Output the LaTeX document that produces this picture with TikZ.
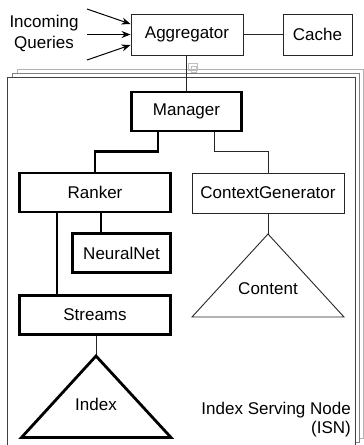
\documentclass[tikz,border=0pt]{standalone}
\usepackage{fontspec}
\setmainfont{Liberation Sans}
\usetikzlibrary{arrows.meta}
\begin{document}
\begin{tikzpicture}[x=1pt,y=-1pt,
  txt/.style={font=\fontsize{17}{21}\selectfont, inner sep=0pt},
  thinbox/.style={txt, draw=black!85, line width=0.9pt, minimum height=41pt},
  thickbox/.style={txt, draw=black, line width=2.8pt, minimum height=39pt},
  thinline/.style={draw=black!85, line width=0.9pt},
  thickline/.style={draw=black, line width=2.8pt},
  frameA/.style={draw=black!30, line width=0.8pt, fill=white},
  frameB/.style={draw=black!50, line width=0.8pt, fill=white},
  frameC/.style={draw=black!75, line width=0.9pt, fill=white},
  inarrow/.style={draw=black, line width=1pt, -{Stealth[length=9pt,width=7pt]}}]
\useasboundingbox (0,0) rectangle (364,445);
% stacked ISN frames
\draw[frameA] (17,69) rectangle (363,438);
\draw[frameB] (12,73) rectangle (359,442);
\draw[frameC] (7,77) rectangle (355,450);
\draw[black!25, line width=0.6pt] (188,63) rectangle (197,70);
\draw[black!25, line width=0.6pt] (191,66) rectangle (196,72);
% top nodes
\node[thinbox, minimum width=112pt] (agg) at (187,34.5) {Aggregator};
\node[thinbox, minimum width=69pt] (cache) at (317.5,34.5) {Cache};
\node[txt, align=center] (inq) at (44,33) {Incoming\\Queries};
\coordinate (q1) at (87,9);
\coordinate (q2) at (87,34.5);
\coordinate (q3) at (87,60);
\draw[inarrow] (q1) -- ([yshift=10.5pt]agg.west);
\draw[inarrow] (q2) -- (agg.west);
\draw[inarrow] (q3) -- ([yshift=-10.5pt]agg.west);
\draw[thinline] (agg.east) -- (cache.west);
% ISN nodes
\node[thickbox, minimum width=110pt] (mgr) at (186.5,111.5) {Manager};
\node[thickbox, minimum width=151pt] (ranker) at (95,192.5) {Ranker};
\node[thinbox, minimum width=152pt, minimum height=40pt] (ctx) at (268,193) {ContextGenerator};
\node[thickbox, minimum width=98pt] (nn) at (121.5,253) {NeuralNet};
\node[thickbox, minimum width=151pt] (streams) at (95,315) {Streams};
\draw[thinline] (agg.south -| mgr.north) -- (mgr.north);
\draw[thickline] ([xshift=-28.5pt]mgr.south) -- ++(0,19) -| (ranker.north);
\draw[thinline] ([xshift=27.5pt]mgr.south) -- ++(0,19) -| (ctx.north);
\coordinate (rnx) at (101,0);
\coordinate (rsx) at (57,0);
\draw[thickline] (ranker.south -| rnx) -- (nn.north -| rnx);
\draw[thickline] (ranker.south -| rsx) -- (streams.north -| rsx);
% Index triangle
\coordinate (itop) at (96,356);
\coordinate (ileft) at (21.5,437.5);
\coordinate (iright) at (171,437.5);
\draw[thinline] (streams.south -| itop) -- (itop);
\draw[thickline, line join=miter] (itop) -- (iright) -- (ileft) -- cycle;
\node[txt] (index) at (96,404) {Index};
% Content triangle
\coordinate (ctop) at (268,234);
\coordinate (cleft) at (192,317);
\coordinate (cright) at (344,317);
\draw[thinline] (ctx.south) -- (ctop);
\draw[thinline, line join=miter] (ctop) -- (cright) -- (cleft) -- cycle;
\node[txt] (content) at (268,289) {Content};
% ISN label
\node[txt, align=right, anchor=east, font=\fontsize{17}{19}\selectfont] (isn) at (351,420) {Index Serving Node\\(ISN)};
\end{tikzpicture}
\end{document}
